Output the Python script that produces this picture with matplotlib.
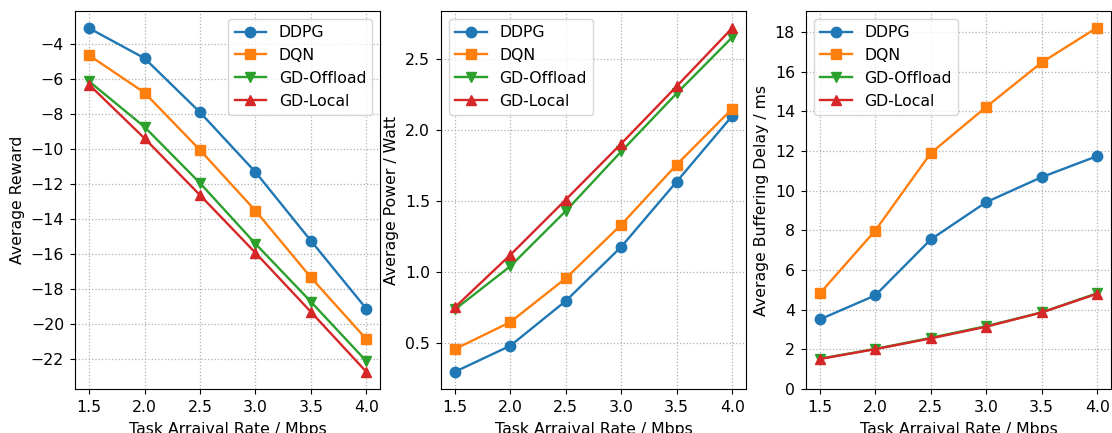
import numpy as np
import matplotlib
matplotlib.use("Agg")
import matplotlib.pyplot as plt
from matplotlib.ticker import MultipleLocator

# ---- data ----
rates = [1.5, 2.0, 2.5, 3.0, 3.5, 4.0]
methods = ["DDPG", "DQN", "GD-Offload", "GD-Local"]

reward_ddpg = [-3.08, -4.80, -7.89, -11.31, -15.24, -19.13]
reward_dqn = [-4.63, -6.77, -10.05, -13.52, -17.34, -20.87]
reward_off = [-6.12, -8.73, -11.94, -15.41, -18.73, -22.13]
reward_loc = [-6.31, -9.38, -12.63, -15.93, -19.31, -22.74]

power_ddpg = [0.295, 0.479, 0.795, 1.177, 1.637, 2.10]
power_dqn = [0.455, 0.646, 0.955, 1.333, 1.757, 2.151]
power_off = [0.735, 1.04, 1.43, 1.85, 2.26, 2.655]
power_loc = [0.750, 1.12, 1.51, 1.905, 2.31, 2.72]

delay_ddpg = [3.51, 4.72, 7.54, 9.42, 10.68, 11.74]
delay_dqn = [4.82, 7.99, 11.89, 14.22, 16.46, 18.22]
delay_off = [1.53, 2.02, 2.58, 3.17, 3.86, 4.83]
delay_loc = [1.51, 2.01, 2.55, 3.14, 3.86, 4.80]

colors = ["#1f77b4", "#ff7f0e", "#2ca02c", "#d62728"]
markers = ["o", "s", "v", "^"]

plt.rcParams["font.family"] = "DejaVu Sans"
plt.rcParams["font.size"] = 11.3

fig = plt.figure(figsize=(11.12, 4.33), dpi=100)
W, H = 1112.0, 433.0
lefts = [75.2, 441.0, 806.0]
axes = [fig.add_axes([l / W, 44 / H, 305 / W, 378 / H]) for l in lefts]

panels = [
    (axes[0], [reward_ddpg, reward_dqn, reward_off, reward_loc], "Average Reward", "upper right", 2),
    (axes[1], [power_ddpg, power_dqn, power_off, power_loc], "Average Power / Watt", "upper left", 0.5),
    (axes[2], [delay_ddpg, delay_dqn, delay_off, delay_loc], "Average Buffering Delay / ms", "upper left", 2),
]

for ax, series, ylab, loc, step in panels:
    for vals, name, col, mk in zip(series, methods, colors, markers):
        ax.plot(rates, vals, color=col, marker=mk, lw=1.7, ms=7.5, label=name)
    ax.set_xlabel("Task Arraival Rate / Mbps", labelpad=5)
    ax.set_ylabel(ylab)
    ax.yaxis.set_major_locator(MultipleLocator(step))
    ax.set_xticks(rates)
    ax.tick_params(pad=4.5)
    ax.grid(True, linestyle=":", color="#b0b0b0", lw=0.9)
    ax.legend(loc=loc, fontsize=11.3)

axes[2].set_ylim(bottom=0)

fig.savefig("out.png", dpi=100)
